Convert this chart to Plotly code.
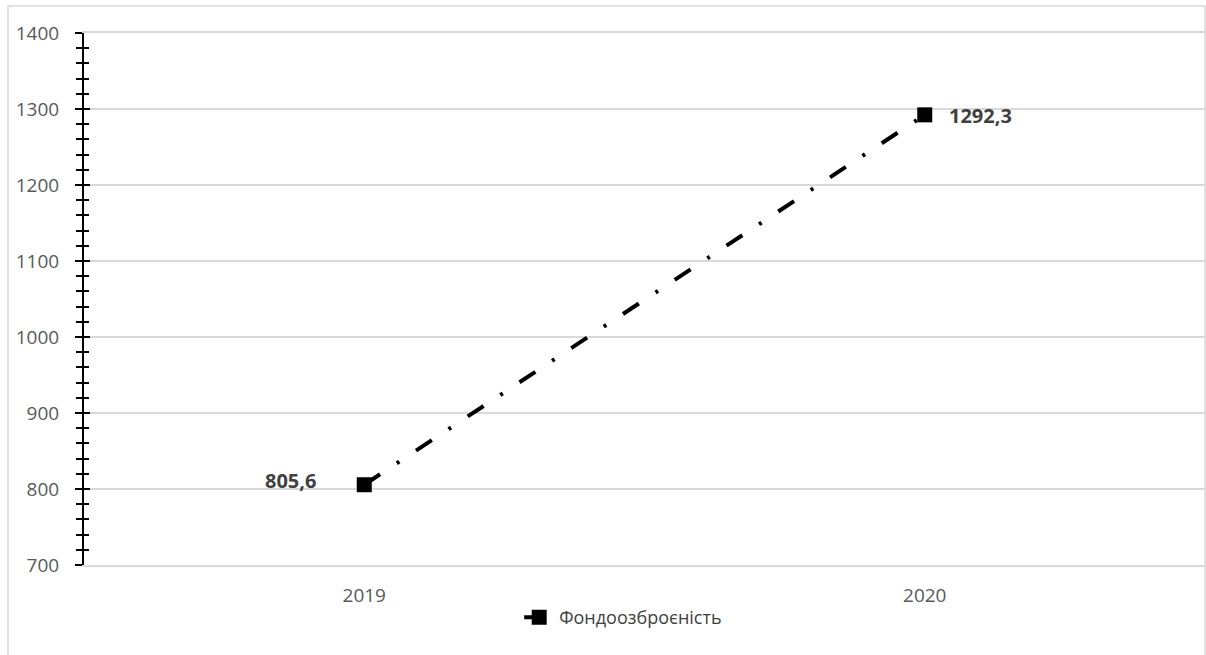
import plotly.graph_objects as go

years = ["2019", "2020"]
values = [805.6, 1292.3]
labels = ["805,6", "1292,3"]
series_name = "Фондоозброєність"
y_ticks = [700, 800, 900, 1000, 1100, 1200, 1300, 1400]

FONT = "Open Sans"
L, R, T, B = 84, 1, 33, 90
W, H = 1206, 655
pw = W - L - R
ph = H - T - B

xs = list(range(len(years)))

fig = go.Figure()
fig.add_trace(go.Scatter(
    x=xs, y=values, mode="lines+markers", name=series_name,
    line=dict(color="black", width=4, dash="19px,20px,3px,20px"),
    marker=dict(symbol="square", size=15, color="black"),
    yaxis="y", hoverinfo="skip",
))

# data labels
fig.add_annotation(x=xs[0], y=values[0], text="<b>" + labels[0] + "</b>", showarrow=False,
                   xanchor="right", xshift=-46, yshift=4,
                   font=dict(family=FONT, size=20, color="#404040"))
fig.add_annotation(x=xs[1], y=values[1], text="<b>" + labels[1] + "</b>", showarrow=False,
                   xanchor="left", xshift=22, yshift=-1,
                   font=dict(family=FONT, size=20, color="#404040"))

# outer border
x0p = (8 - L) / pw
x1p = (1205 - L) / pw
y1p = 1 + (T - 6) / ph
y0p = -(B + 5) / ph
fig.add_shape(type="rect", xref="paper", yref="paper", x0=x0p, x1=x1p, y0=y0p, y1=y1p,
              line=dict(color="#d9d9d9", width=1.5), fillcolor="rgba(0,0,0,0)", layer="below")

fig.update_layout(
    width=W, height=H,
    margin=dict(l=L, r=R, t=T, b=B),
    paper_bgcolor="white", plot_bgcolor="white",
    showlegend=True,
    legend=dict(orientation="h", x=0.481, xanchor="center", y=-0.064, yanchor="top",
                font=dict(family=FONT, size=18, color="#404040"), itemwidth=30),
    xaxis=dict(range=[-0.5, 1.5], tickvals=xs, ticktext=years, showgrid=False,
               zeroline=False, showline=True, linecolor="#d9d9d9", linewidth=1.5,
               mirror=True, ticks="", ticklabelstandoff=12,
               tickfont=dict(family=FONT, size=19, color="#595959")),
    yaxis=dict(range=[700, 1400], tickvals=y_ticks, showgrid=True, gridcolor="#d9d9d9",
               gridwidth=1.5, zeroline=False, showline=True, linecolor="black", linewidth=2,
               ticks="outside", ticklen=7, tickwidth=2, tickcolor="black",
               ticklabelstandoff=12,
               minor=dict(dtick=20, ticks="outside", ticklen=6, tickwidth=2, tickcolor="black",
                          showgrid=False),
               tickfont=dict(family=FONT, size=19, color="#595959")),
    yaxis2=dict(range=[700, 1400], overlaying="y", side="left", showgrid=False,
                zeroline=False, showline=False, showticklabels=False,
                tickvals=y_ticks, ticks="inside", ticklen=6, tickwidth=2, tickcolor="black",
                minor=dict(dtick=20, ticks="inside", ticklen=5, tickwidth=2, tickcolor="black",
                           showgrid=False)),
)
# invisible trace to activate yaxis2
fig.add_trace(go.Scatter(x=[xs[0]], y=[values[0]], yaxis="y2", mode="markers",
                         marker=dict(opacity=0), showlegend=False, hoverinfo="skip"))

fig.write_html("out.html")
